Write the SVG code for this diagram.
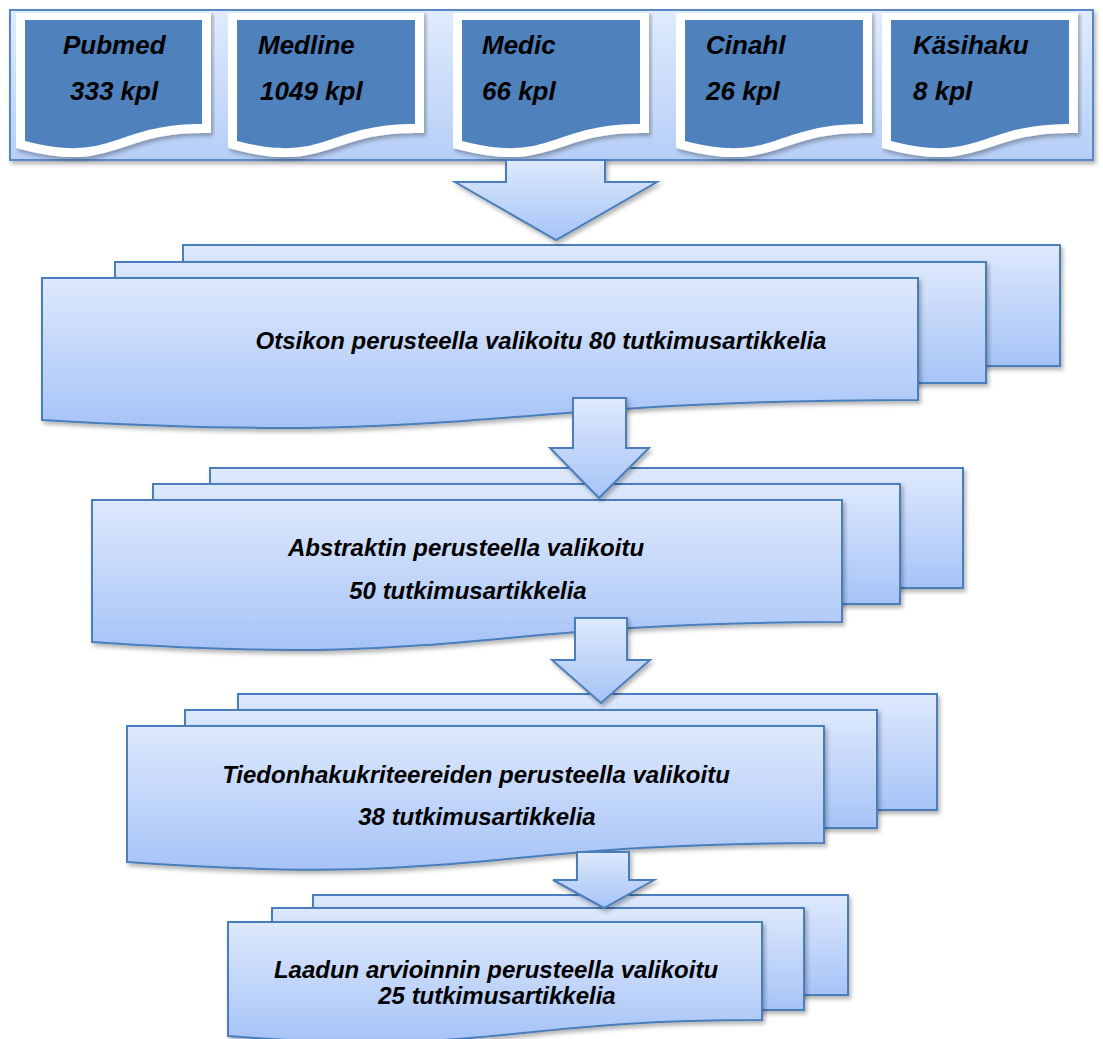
<svg xmlns="http://www.w3.org/2000/svg" width="1103" height="1039" viewBox="0 0 1103 1039">
<defs>
<linearGradient id="gBox" x1="0" y1="0" x2="0" y2="1">
<stop offset="0" stop-color="#dee9fc"/>
<stop offset="1" stop-color="#a6c3f7"/>
</linearGradient>
<linearGradient id="gTop" x1="0" y1="0" x2="0" y2="1">
<stop offset="0" stop-color="#e0ebfd"/>
<stop offset="1" stop-color="#b6cef7"/>
</linearGradient>
<filter id="sh" x="-5%" y="-5%" width="112%" height="120%">
<feDropShadow dx="2" dy="3" stdDeviation="2" flood-color="#000" flood-opacity="0.3"/>
</filter>
</defs>
<style>
.box{fill:url(#gBox);stroke:#4a7ebb;stroke-width:2;filter:url(#sh)}
.cont{fill:url(#gTop);stroke:#5a88c6;stroke-width:2;filter:url(#sh)}
.doc{fill:#4f81bd;stroke:#ffffff;stroke-width:18;paint-order:stroke;stroke-linejoin:miter;filter:url(#sh)}
.arr{fill:url(#gBox);stroke:#4a7ebb;stroke-width:2;filter:url(#sh)}
text{font-family:"Liberation Sans",Arial,Helvetica,sans-serif;font-weight:bold;font-style:italic;fill:#000}
.t1{font-size:26px}
.t2{font-size:24px;text-anchor:middle}
</style>

<g id="sources">
<rect class="cont" x="10" y="10" width="1083" height="150"/>
<g id="pubmed">
<path class="doc" d="M25,20 H202 V124 C113.5,124 113.5,164 25,141 Z"/>
<text class="t1" x="63" y="54">Pubmed</text>
<text class="t1" x="70" y="100">333 kpl</text>
</g>
<g id="medline">
<path class="doc" d="M237,20 H415 V124 C326,124 326,164 237,141 Z"/>
<text class="t1" x="258" y="54">Medline</text>
<text class="t1" x="260" y="100">1049 kpl</text>
</g>
<g id="medic">
<path class="doc" d="M462,20 H640 V124 C551,124 551,164 462,141 Z"/>
<text class="t1" x="482" y="54">Medic</text>
<text class="t1" x="482" y="100">66 kpl</text>
</g>
<g id="cinahl">
<path class="doc" d="M685,20 H863 V124 C774,124 774,164 685,141 Z"/>
<text class="t1" x="706" y="54">Cinahl</text>
<text class="t1" x="706" y="100">26 kpl</text>
</g>
<g id="kasihaku">
<path class="doc" d="M891,20 H1069 V124 C980,124 980,164 891,141 Z"/>
<text class="t1" x="913" y="54">Käsihaku</text>
<text class="t1" x="913" y="100">8 kpl</text>
</g>
</g>

<g id="step1">
<rect class="box" x="183" y="245" width="877" height="121"/>
<rect class="box" x="115" y="262" width="871" height="121"/>
<path class="box" d="M42,278 H918 V400 C480,400 480,446 42,420 Z"/>
<text class="t2" x="541" y="349">Otsikon perusteella valikoitu 80 tutkimusartikkelia</text>
</g>

<g id="step2">
<rect class="box" x="210" y="468" width="753" height="120"/>
<rect class="box" x="153" y="484" width="747" height="120"/>
<path class="box" d="M92,500 H842 V622 C467,622 467,668 92,642 Z"/>
<text class="t2" x="466" y="556">Abstraktin perusteella valikoitu</text>
<text class="t2" x="468" y="599">50 tutkimusartikkelia</text>
</g>

<g id="step3">
<rect class="box" x="238" y="694" width="699" height="116"/>
<rect class="box" x="185" y="710" width="692" height="118"/>
<path class="box" d="M127,726 H824 V843 C475.5,843 475.5,887 127,862 Z"/>
<text class="t2" x="476" y="783">Tiedonhakukriteereiden perusteella valikoitu</text>
<text class="t2" x="477" y="825">38 tutkimusartikkelia</text>
</g>

<g id="step4">
<rect class="box" x="313" y="895" width="535" height="100"/>
<rect class="box" x="272" y="908" width="532" height="102"/>
<path class="box" d="M228,922 H762 V1020 C495,1020 495,1057 228,1036 Z"/>
<text class="t2" x="496" y="978">Laadun arvioinnin perusteella valikoitu</text>
<text class="t2" x="497" y="1004">25 tutkimusartikkelia</text>
</g>

<g id="connectors">
<path class="arr" d="M506,160 H605 V182 H657 L556,240 L455,182 H506 Z"/>
<path class="arr" d="M573,398 H626 V448 H649 L599,498 L550,448 H573 Z"/>
<path class="arr" d="M575,618 H627 V660 H650 L601,703 L552,660 H575 Z"/>
<path class="arr" d="M577,852 H629 V880 H654 L604,908 L553,880 H577 Z"/>
</g>
</svg>
